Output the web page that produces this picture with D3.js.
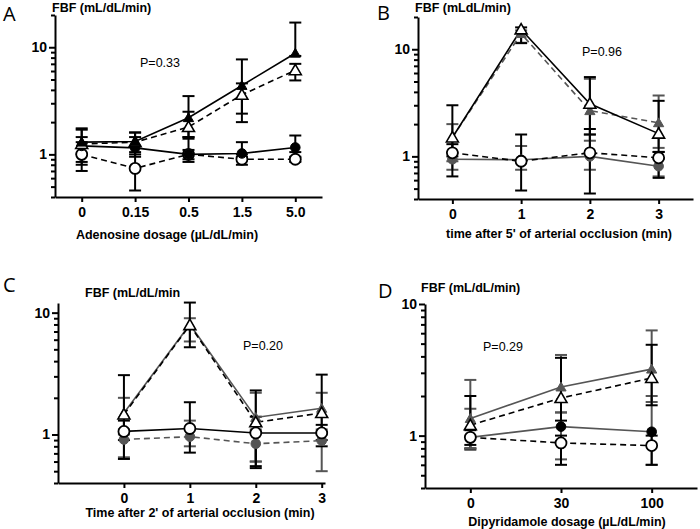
<!DOCTYPE html>
<html lang="en">
<head>
<meta charset="UTF-8">
<title>FBF panels</title>
<script src="https://d3js.org/d3.v7.min.js"></script>
<style>
  body { margin: 0; background: #fff; }
  svg { display: block; font-family: "Liberation Sans", Arial, sans-serif; }
  .axis path, .axis line { stroke: #000; stroke-width: 2px; }
  .axis text { font-family: "Liberation Sans", Arial, sans-serif; font-size: 14px; font-weight: bold; fill: #000; }
  .title { font-size: 12.5px; font-weight: bold; }
  .letter { font-size: 20px; font-family: "Open Sans", sans-serif; }
  .pval { font-size: 12.5px; }
</style>
</head>
<body>
<svg width="700" height="529"></svg>
<script>
// rows are [mean, lower, upper]
const catsA = ["0", "0.15", "0.5", "1.5", "5.0"];
const A_triFilled = [[1.3, 1.0, 1.75], [1.32, 1.05, 1.6], [2.2, 1.45, 3.5], [4.4, 2.4, 7.7], [8.8, 8.3, 17]];
const A_triOpen = [[1.25, 0.85, 1.45], [1.3, 1.0, 1.45], [1.8, 1.4, 2.5], [3.6, 2.0, 4.6], [6.1, 4.9, 7.0]];
const A_circFilled = [[1.2, 0.8, 1.7], [1.15, 0.95, 1.6], [1.0, 0.9, 1.45], [1.02, 0.95, 1.3], [1.16, 1.05, 1.5]];
const A_circOpen = [[1.0, 0.7, 1.3], [0.74, 0.46, 1.2], [1.0, 0.85, 1.1], [0.9, 0.8, 1.0], [0.9, 0.85, 0.95]];

const catsB = ["0", "1", "2", "3"];
const B_triOpen = [[1.5, 1.0, 3.0], [15.3, 11.4, 16], [3.1, 1.6, 5.5], [1.63, 1.1, 3.3]];
const B_triFilled = [[1.5, 0.9, 2.0], [14, 11.5, 15], [2.67, 1.4, 5.3], [2.06, 1.2, 3.7]];
const B_circOpen = [[1.08, 0.65, 1.3], [0.9, 0.48, 1.6], [1.08, 0.45, 1.8], [0.97, 0.63, 1.1]];
const B_circFilled = [[0.94, 0.75, 1.1], [0.93, 0.75, 1.25], [1.0, 0.75, 1.6], [0.81, 0.65, 0.95]];

const catsC = [0, 1, 2, 3];
const C_triOpen = [[1.46, 0.9, 3.07], [7.9, 5.2, 12.1], [1.26, 0.55, 2.3], [1.5, 0.9, 3.1]];
const C_triFilled = [[1.5, 1.0, 2.0], [8.0, 5.8, 9.0], [1.38, 0.6, 2.2], [1.64, 1.0, 2.2]];
const C_circOpen = [[1.06, 0.63, 1.3], [1.12, 0.71, 1.84], [1.03, 0.53, 1.4], [1.03, 0.8, 1.2]];
const C_circFilled = [[0.91, 0.65, 1.1], [0.96, 0.8, 1.3], [0.84, 0.6, 1.1], [0.89, 0.5, 1.1]];

const catsD = ["0", "30", "100"];
const D_triFilled = [[1.35, 0.8, 2.65], [2.34, 1.5, 4.1], [3.2, 1.8, 6.3]];
const D_triOpen = [[1.2, 0.85, 2.0], [1.93, 1.3, 3.9], [2.74, 1.7, 4.9]];
const D_circFilled = [[0.97, 0.78, 1.6], [1.17, 0.66, 1.5], [1.07, 0.6, 2.0]];
const D_circOpen = [[0.97, 0.8, 1.1], [0.88, 0.6, 1.0], [0.84, 0.6, 1.0]];

const majorTicks = [1, 10];
const minorTicks = [0.4, 0.5, 0.6, 0.7, 0.8, 0.9, 2, 3, 4, 5, 6, 7, 8, 9, 20];

const GRAY = "#555";

const panels = [
  { letter: "A", lx: 3, ly: 21, yLabel: "FBF (mL/dL/min)", ylx: 52, yly: 12,
    xTitle: "Adenosine dosage (\u00b5L/dL/min)", tx: 167, ty: 239,
    p: "P=0.33", px: 140, py: 67,
    left: 55, right: 322, top: 15, bottom: 197, yMax: 20, cats: catsA,
    series: [
      { d: A_circOpen, shape: "circle", fill: "#fff", color: "#000", dash: true },
      { d: A_circFilled, shape: "circle", fill: "#000", color: "#000", dash: false },
      { d: A_triOpen, shape: "tri", fill: "#fff", color: "#000", dash: true },
      { d: A_triFilled, shape: "tri", fill: "#000", color: "#000", dash: false }
    ] },
  { letter: "B", lx: 377, ly: 20, yLabel: "FBF (mLdL/min)", ylx: 415, yly: 12,
    xTitle: "time after 5' of arterial occlusion (min)", tx: 559, ty: 238,
    p: "P=0.96", px: 582, py: 56,
    left: 418, right: 693, top: 17, bottom: 199, yMax: 20, cats: catsB,
    series: [
      { d: B_circFilled, shape: "circle", fill: GRAY, color: GRAY, dash: false },
      { d: B_triFilled, shape: "tri", fill: GRAY, color: GRAY, dash: true },
      { d: B_circOpen, shape: "circle", fill: "#fff", color: "#000", dash: true },
      { d: B_triOpen, shape: "tri", fill: "#fff", color: "#000", dash: false }
    ] },
  { letter: "C", lx: 3, ly: 292, yLabel: "FBF (mL/dL/min", ylx: 85, yly: 297,
    xTitle: "Time after 2' of arterial occlusion (min)", tx: 200, ty: 517,
    p: "P=0.20", px: 243, py: 350,
    left: 58, right: 325, top: 303, bottom: 483, yMax: 12, cats: catsC, linear: true,
    series: [
      { d: C_circFilled, shape: "circle", fill: GRAY, color: GRAY, dash: true },
      { d: C_triFilled, shape: "tri", fill: GRAY, color: GRAY, dash: false },
      { d: C_circOpen, shape: "circle", fill: "#fff", color: "#000", dash: false },
      { d: C_triOpen, shape: "tri", fill: "#fff", color: "#000", dash: true }
    ] },
  { letter: "D", lx: 378, ly: 298, yLabel: "FBF (mL/dL/min)", ylx: 421, yly: 292,
    xTitle: "Dipyridamole dosage (\u00b5L/dL/min)", tx: 567, ty: 526,
    p: "P=0.29", px: 483, py: 351,
    left: 425, right: 697, top: 304, bottom: 488, yMax: 10, cats: catsD,
    series: [
      { d: D_circFilled, shape: "circle", fill: "#000", color: GRAY, dash: false },
      { d: D_circOpen, shape: "circle", fill: "#fff", color: "#000", dash: true },
      { d: D_triFilled, shape: "tri", fill: GRAY, color: GRAY, dash: false },
      { d: D_triOpen, shape: "tri", fill: "#fff", color: "#000", dash: true }
    ] }
];

const svg = d3.select("svg");
const triOpen = d3.symbol().type(d3.symbolTriangle).size(62);
const triFilled = d3.symbol().type(d3.symbolTriangle).size(45);

panels.forEach(p => {
  const g = svg.append("g");

  const y = d3.scaleLog().domain([0.4, p.yMax]).range([p.bottom, p.top]);
  let x;
  if (p.linear) {
    x = d3.scaleLinear().domain([-1, 3.05]).range([p.left, p.right]);
  } else {
    x = d3.scalePoint().domain(p.cats).range([p.left, p.right]).padding(0.5);
  }
  const px = i => x(p.cats[i]);

  // y axis: minor then major
  g.append("g").attr("class", "axis")
    .attr("transform", `translate(${p.left},0)`)
    .call(d3.axisLeft(y).tickValues(minorTicks.filter(v => v <= p.yMax))
      .tickSize(4).tickSizeOuter(0).tickFormat(""));
  g.append("g").attr("class", "axis")
    .attr("transform", `translate(${p.left},0)`)
    .call(d3.axisLeft(y).tickValues(majorTicks).tickSize(6).tickSizeOuter(0)
      .tickPadding(2).tickFormat(d3.format("d")))
    .select(".domain").remove();

  // x axis
  const xa = p.linear ? d3.axisBottom(x).tickValues(p.cats).tickFormat(d3.format("d"))
                      : d3.axisBottom(x);
  g.append("g").attr("class", "axis")
    .attr("transform", `translate(0,${p.bottom})`)
    .call(xa.tickSize(5).tickSizeOuter(0).tickPadding(5));

  // error bars
  p.series.forEach(s => {
    s.d.forEach((r, i) => {
      const cx = px(i);
      g.append("line").attr("x1", cx).attr("x2", cx)
        .attr("y1", y(r[1])).attr("y2", y(r[2]))
        .attr("stroke", s.color).attr("stroke-width", 2);
      [r[1], r[2]].forEach(v => {
        g.append("line").attr("x1", cx - 6).attr("x2", cx + 6)
          .attr("y1", y(v)).attr("y2", y(v))
          .attr("stroke", s.color).attr("stroke-width", 2);
      });
    });
  });

  p.series.forEach(s => {
    g.append("path")
      .datum(s.d)
      .attr("fill", "none")
      .attr("stroke", s.color)
      .attr("stroke-width", 1.6)
      .attr("stroke-dasharray", s.dash ? "6,4" : null)
      .attr("d", d3.line().x((r, i) => px(i)).y(r => y(r[0])));
  });

  p.series.forEach(s => {
    const open = s.fill === "#fff";
    s.d.forEach((r, i) => {
      const cx = px(i), cy = y(r[0]);
      if (s.shape === "circle") {
        g.append("circle").attr("cx", cx).attr("cy", cy)
          .attr("r", open ? 5.5 : 4.8)
          .attr("fill", s.fill).attr("stroke", open ? "#000" : s.fill)
          .attr("stroke-width", open ? 1.8 : 1);
      } else {
        g.append("path").attr("d", open ? triOpen : triFilled)
          .attr("transform", `translate(${cx},${cy + 1})`)
          .attr("fill", s.fill).attr("stroke", open ? "#000" : s.fill)
          .attr("stroke-width", open ? 1.6 : 1);
      }
    });
  });

  g.append("text").attr("class", "letter").attr("x", p.lx).attr("y", p.ly).text(p.letter);
  g.append("text").attr("class", "title").attr("x", p.ylx).attr("y", p.yly).text(p.yLabel);
  g.append("text").attr("class", "title").attr("x", p.tx).attr("y", p.ty)
    .attr("text-anchor", "middle").text(p.xTitle);
  g.append("text").attr("class", "pval").attr("x", p.px).attr("y", p.py).text(p.p);
});
</script>
</body>
</html>
